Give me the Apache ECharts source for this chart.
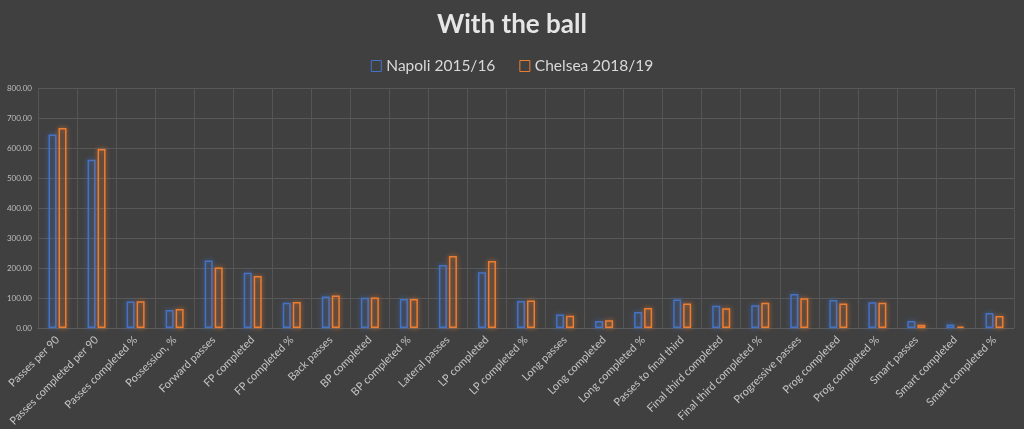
<!DOCTYPE html>
<html>
<head>
    <meta charset="utf-8">
    <title>With the ball</title>
    <script src="https://cdn.jsdelivr.net/npm/echarts@6/dist/echarts.min.js"></script>
    <style>
        html, body { margin: 0; padding: 0; background: #404040; }
    </style>
</head>
<body>
    <div id="main" style="width: 1024px;height:429px;"></div>
    <script type="text/javascript">
        var categories = [
            'Passes per 90', 'Passes completed per 90', 'Passes completed %', 'Possession, %',
            'Forward passes', 'FP completed', 'FP completed %', 'Back passes', 'BP completed',
            'BP completed %', 'Lateral passes', 'LP completed', 'LP completed %', 'Long passes',
            'Long completed', 'Long completed %', 'Passes to final third', 'Final third completed',
            'Final third completed %', 'Progressive passes', 'Prog completed', 'Prog completed %',
            'Smart passes', 'Smart completed', 'Smart completed %'
        ];
        var napoli = [645, 561, 88, 60, 225, 184, 84, 105, 101, 97, 210, 186, 90, 45, 23, 53, 95, 74, 76, 113, 93, 86, 23, 12, 50];
        var chelsea = [667, 597, 89, 63, 202, 173, 87, 108, 102, 97, 240, 223, 92, 41, 26, 67, 82, 66, 84, 99, 82, 84, 11, 5, 40];

        var myChart = echarts.init(document.getElementById('main'));

        // hollow bar with a soft glow, like the excel "glow" effect
        function hollowBar(name, values, color, glow, legendColor) {
            return {
                name: name,
                type: 'bar',
                data: values,
                barWidth: 8,
                barGap: '25%',
                itemStyle: {
                    color: 'rgba(0,0,0,0)',
                    borderColor: color,
                    borderWidth: 1.5,
                    shadowBlur: 5,
                    shadowColor: glow
                },
                legendIcon: 'rect'
            };
        }

        var option = {
            backgroundColor: '#404040',
            textStyle: { fontFamily: 'Lato' },
            title: {
                text: 'With the ball',
                left: 'center',
                top: 7,
                textStyle: { color: '#e6e6e6', fontSize: 26, fontWeight: 'bold', fontFamily: 'Lato' }
            },
            legend: {
                top: 53,
                left: 'center',
                itemWidth: 10,
                itemHeight: 11,
                itemGap: 24,
                icon: 'rect',
                itemStyle: { borderWidth: 1, shadowBlur: 0 },
                textStyle: { color: '#d9d9d9', fontSize: 15.5, fontFamily: 'Lato' }
            },
            grid: { left: 38, right: 10, top: 88, bottom: 101, containLabel: false },
            xAxis: {
                type: 'category',
                data: categories,
                axisLine: { lineStyle: { color: '#5c5c5c' } },
                axisTick: { show: false },
                splitLine: { show: true, lineStyle: { color: '#555555', width: 1 } },
                axisLabel: {
                    interval: 0,
                    rotate: 45,
                    margin: 10,
                    color: '#c4c4c4',
                    fontSize: 11,
                    fontFamily: 'Lato'
                }
            },
            yAxis: {
                type: 'value',
                min: 0,
                max: 800,
                interval: 100,
                axisLine: { show: false },
                axisTick: { show: false },
                splitLine: { lineStyle: { color: '#585858', width: 1 } },
                axisLabel: {
                    color: '#bdbdbd',
                    fontSize: 8,
                    margin: 6,
                    formatter: function (v) { return v.toFixed(2); }
                }
            },
            series: [
                hollowBar('Napoli 2015/16', napoli, '#4472C4', 'rgba(68,114,196,0.9)'),
                hollowBar('Chelsea 2018/19', chelsea, '#ED7D31', 'rgba(237,125,49,0.9)')
            ]
        };

        myChart.setOption(option);
    </script>
</body>
</html>
